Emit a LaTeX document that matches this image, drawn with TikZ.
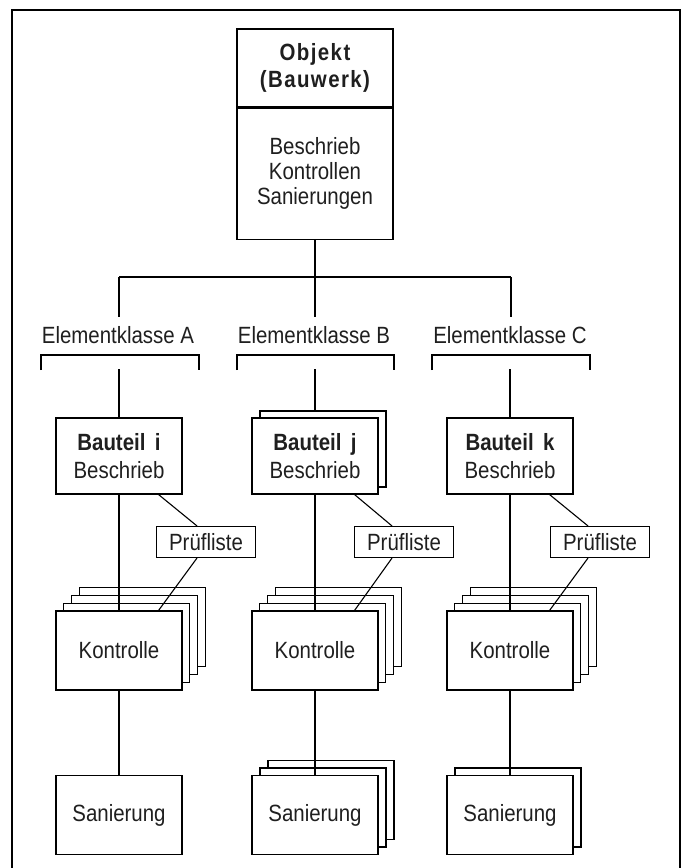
\documentclass[tikz,border=0pt]{standalone}
\usepackage{fontspec}
\setmainfont{Liberation Sans}[FakeStretch=0.87]
\usetikzlibrary{calc}
\begin{document}
\begin{tikzpicture}[x=1pt,y=-1pt,
  every node/.style={font=\fontsize{23.5}{25}\selectfont, text=black!88, align=center},
  box/.style={draw, line width=1.1pt, fill=white, inner sep=0pt},
  bauteil/.style={box, minimum width=126pt, minimum height=76pt},
  kbox/.style={box, minimum width=126pt, minimum height=79pt},
  pbox/.style={box, minimum width=99pt, minimum height=31pt},
  ln/.style={line width=1.1pt},
  bold/.style={font=\fontsize{23.5}{27}\selectfont\bfseries\addfontfeature{LetterSpace=6}}
]
\useasboundingbox (0,0) rectangle (683,868);
\fill[white] (0,0) rectangle (683,868);
\draw[line width=1.4pt] (12,868) -- (12,10) -- (680,10) -- (680,868);

% top object box
\node[box, minimum width=156pt, minimum height=78pt, bold] (obj) at (315,68) {Objekt\\(Bauwerk)};
\node[box, minimum width=156pt, minimum height=131pt, anchor=north] (obd) at (obj.south) {Beschrieb\\Kontrollen\\Sanierungen};

% bus
\coordinate (bus) at (315,277);
\coordinate (bA) at (119,277);
\coordinate (bC) at (511,277);
\coordinate (dA) at (119,317);
\coordinate (dB) at (315,317);
\coordinate (dC) at (511,317);
\draw[ln] (obd.south) -- (bus);
\draw[ln] (bA) -- (bC);
\draw[ln] (bA) -- (dA);
\draw[ln] (bus) -- (dB);
\draw[ln] (bC) -- (dC);

% element classes
\node[anchor=base] (ekA) at (118,343) {Elementklasse A};
\node[anchor=base] (ekB) at (314,343) {Elementklasse B};
\node[anchor=base] (ekC) at (510,343) {Elementklasse C};
\draw[ln] (41,370) -- (41,355) -- (199,355) -- (199,370);
\draw[ln] (237,370) -- (237,355) -- (394,355) -- (394,370);
\draw[ln] (432,370) -- (432,355) -- (590,355) -- (590,370);
\coordinate (vA) at (119,369);
\coordinate (vB) at (315,369);
\coordinate (vC) at (510,369);

% Bauteile
\node[bauteil] (bi) at (119,456) {{\bfseries Bauteil\hspace{.4em}i}\\[3pt]Beschrieb};
\node[bauteil] (bj1) at (323,449) {};
\node[bauteil] (bj) at (315,456) {{\bfseries Bauteil\hspace{.4em}j}\\[3pt]Beschrieb};
\node[bauteil] (bk) at (510,456) {{\bfseries Bauteil\hspace{.4em}k}\\[3pt]Beschrieb};
\draw[ln] (vA) -- (bi.north);
\draw[ln] (vB) -- (vB |- bj1.north);
\draw[ln] (vC) -- (bk.north);

% Pruefliste
\node[pbox] (pA) at (206,542) {Prüfliste};
\node[pbox] (pB) at (404,542) {Prüfliste};
\node[pbox] (pC) at (600,542) {Prüfliste};

% Kontrolle stacks
\foreach \i in {3,2,1} {
  \node[kbox] (kA\i) at (119+7.8*\i, 650.5-7.8*\i) {};
  \node[kbox] (kB\i) at (315+7.8*\i, 650.5-7.8*\i) {};
  \node[kbox] (kC\i) at (510+7.8*\i, 650.5-7.8*\i) {};
}
\node[kbox] (kA) at (119,650.5) {Kontrolle};
\node[kbox] (kB) at (315,650.5) {Kontrolle};
\node[kbox] (kC) at (510,650.5) {Kontrolle};

\draw[ln] (bi.south) -- (kA.north);
\draw[ln] (bj.south) -- (kB.north);
\draw[ln] (bk.south) -- (kC.north);

\draw[ln] ([xshift=-24pt]bi.south east) -- ([xshift=-9pt]pA.north);
\draw[ln] ([xshift=-9pt]pA.south) -- ([xshift=-24pt]kA.north east);
\draw[ln] ([xshift=-24pt]bj.south east) -- ([xshift=-12pt]pB.north);
\draw[ln] ([xshift=-12pt]pB.south) -- ([xshift=-24pt]kB.north east);
\draw[ln] ([xshift=-24pt]bk.south east) -- ([xshift=-12pt]pC.north);
\draw[ln] ([xshift=-12pt]pC.south) -- ([xshift=-24pt]kC.north east);

% Sanierung
\node[kbox] (sA) at (119,815) {Sanierung};
\foreach \i in {2,1} {
  \node[kbox] (sB\i) at (315+8*\i, 815-7.5*\i) {};
}
\node[kbox] (sB) at (315,815) {Sanierung};
\node[kbox] (sC1) at (518,807.5) {};
\node[kbox] (sC) at (510,815) {Sanierung};

\draw[ln] (kA.south) -- (sA.north);
\draw[ln] (kB.south) -- (sB.north);
\draw[ln] (kC.south) -- (sC.north);
\end{tikzpicture}
\end{document}
